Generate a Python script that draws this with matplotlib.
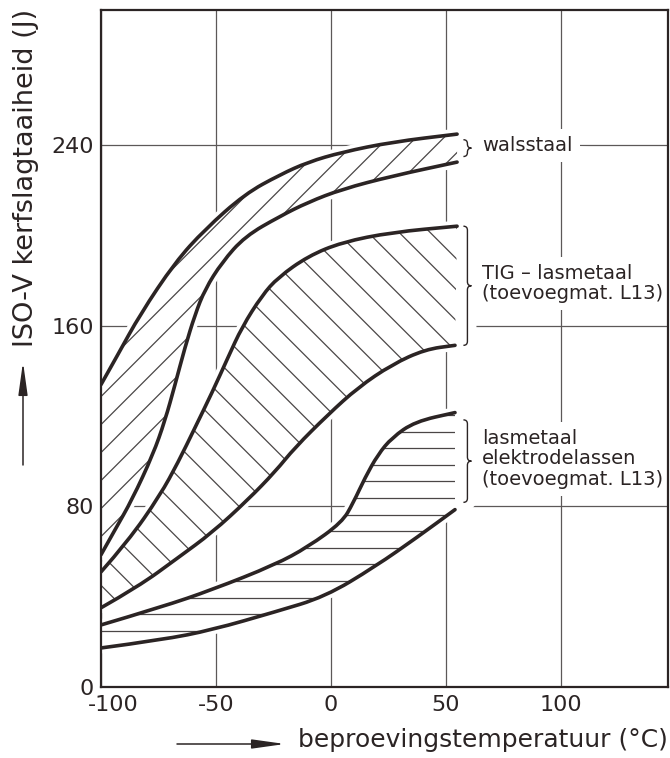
import numpy as np
import matplotlib
matplotlib.use("Agg")
import matplotlib.pyplot as plt
from matplotlib.patches import Polygon, PathPatch
from matplotlib.path import Path
from matplotlib.transforms import ScaledTranslation

# ISO-V impact energy (J) against test temperature (degC), upper/lower bound of each scatter band
walsstaal_hi_T = [-100, -92.6, -83.0, -67.8, -54.8, -37.4, -22.2, -10.0, 4.8, 26.5, 54.8]
walsstaal_hi_J = [134.0, 147.4, 165.1, 188.2, 202.8, 218.5, 227.0, 232.6, 237.0, 241.5, 245.0]
walsstaal_lo_T = [-100, -93.9, -86.5, -77.4, -72.2, -67.8, -63.5, -59.1, -54.8, -47.4, -37.4,
                  -22.2, -10.0, 4.8, 26.5, 54.8]
walsstaal_lo_J = [58.6, 69.7, 83.0, 103.0, 118.0, 134.0, 150.5, 165.1, 176.2, 188.2, 199.7,
                  208.6, 214.8, 220.6, 226.4, 232.6]

tig_hi_T = [-100, -88.3, -74.3, -66.5, -59.1, -51.7, -44.8, -38.7, -30.0, -23.0, -10.0, 4.8, 26.5, 54.8]
tig_hi_J = [51.0, 64.5, 85.0, 99.5, 115.0, 130.5, 146.0, 159.5, 173.5, 181.5, 190.9, 197.1, 201.5, 204.2]
tig_lo_T = [-100, -83.9, -66.5, -51.7, -36.1, -24.3, -15.7, -1.3, 11.7, 26.5, 40.9, 53.9]
tig_lo_J = [35.1, 44.4, 57.3, 68.4, 83.0, 95.4, 106.1, 120.7, 132.7, 142.9, 149.6, 151.4]

elek_hi_T = [-100, -73.5, -51.7, -24.3, -10.0, 4.8, 9.6, 14.8, 20.4, 26.5, 36.5, 53.9]
elek_hi_J = [27.5, 35.5, 43.1, 54.2, 62.1, 73.0, 81.5, 92.8, 103.0, 110.5, 117.6, 121.6]
elek_lo_T = [-100, -73.5, -51.7, -24.3, -2.6, 19.1, 37.8, 53.9]
elek_lo_J = [17.3, 20.9, 25.3, 33.3, 40.0, 53.3, 66.6, 78.6]

band_names = ["walsstaal",
              "TIG – lasmetaal\n(toevoegmat. L13)",
              "lasmetaal\nelektrodelassen\n(toevoegmat. L13)"]

x_ticks = [-100, -50, 0, 50, 100]
x_ticklabels = ["-100", "-50", "0", "50", "100"]
y_ticks = [0, 80, 160, 240]
y_ticklabels = ["0", "80", "160", "240"]

x_title = "beproevingstemperatuur (°C)"
y_title = "ISO-V kerfslagtaaiheid (J)"

# ---- styling ----
INK = "#2b2424"
GRID = "#5c5858"
HATCH = "#4a4646"
W, H = 670, 758

plt.rcParams["font.family"] = ["DejaVu Sans"]
fig = plt.figure(figsize=(W / 100, H / 100), dpi=100)
ax = fig.add_axes([101 / W, 1 - 687 / H, (668 - 101) / W, (687 - 10) / H])
XMIN, XMAX, YMIN, YMAX = -100, 146.5, 0, 300
ax.set_xlim(XMIN, XMAX)
ax.set_ylim(YMIN, YMAX)
ax.set_autoscale_on(False)

ax.set_xticks(x_ticks, x_ticklabels)
ax.set_yticks(y_ticks, y_ticklabels)
ax.tick_params(axis="both", length=0, labelsize=16, colors=INK)
ax.tick_params(axis="x", pad=6)
ax.tick_params(axis="y", pad=5)
ax.set_axisbelow(True)
ax.grid(True, color=GRID, lw=0.9)
for sp in ax.spines.values():
    sp.set_color(INK)
    sp.set_linewidth(1.6)
    sp.set_zorder(6)

# keep the leftmost temperature label inside the frame
lbl0 = ax.get_xticklabels()[0]
lbl0.set_transform(lbl0.get_transform() + ScaledTranslation(0.12, 0, fig.dpi_scale_trans))

# pixel scale of the data axes, used for 45-degree hatching
bb = ax.get_window_extent()
ppx = bb.width / (XMAX - XMIN)
ppy = bb.height / (YMAX - YMIN)


def smooth_path(T, J):
    """Quadratic Bezier path using the read points as control points."""
    p = np.column_stack([T, J]).astype(float)
    verts = [p[0]]
    codes = [Path.MOVETO]
    for i in range(1, len(p) - 1):
        verts += [p[i], 0.5 * (p[i] + p[i + 1])]
        codes += [Path.CURVE3, Path.CURVE3]
    verts.append(p[-1])
    codes.append(Path.LINETO)
    return Path(verts, codes)


def flatten(path):
    disp = path.transformed(ax.transData)
    poly = disp.to_polygons(closed_only=False)[0]
    return ax.transData.inverted().transform(poly)


def hatch(verts, kind, spacing_px, through):
    clip = Polygon(verts, closed=True, fc="none", ec="none")
    ax.add_patch(clip)
    if kind == "-":
        s = 0.0
    elif kind == "/":
        s = ppx / ppy
    else:
        s = -ppx / ppy
    dc = spacing_px / ppy
    c_all = verts[:, 1] - s * verts[:, 0]
    c0 = through[1] - s * through[0]
    k0 = int(np.floor((c_all.min() - c0) / dc)) - 1
    k1 = int(np.ceil((c_all.max() - c0) / dc)) + 1
    xx = np.array([XMIN - 5, 60.0])
    for k in range(k0, k1 + 1):
        c = c0 + k * dc
        ln, = ax.plot(xx, s * xx + c, color=HATCH, lw=0.9, zorder=2, solid_capstyle="butt")
        ln.set_clip_path(clip)


def brace(x0, y0, y1, width_px=4.0, hook_px=4.0, zorder=4):
    hw = width_px / ppx
    hl = hook_px / ppy
    ym = 0.5 * (y0 + y1)
    verts = [(x0 - hw, y1), (x0, y1), (x0, y1 - hl),
             (x0, ym + hl),
             (x0, ym), (x0 + hw, ym),
             (x0, ym), (x0, ym - hl),
             (x0, y0 + hl),
             (x0, y0), (x0 - hw, y0)]
    codes = [Path.MOVETO, Path.CURVE3, Path.CURVE3,
             Path.LINETO,
             Path.CURVE3, Path.CURVE3,
             Path.CURVE3, Path.CURVE3,
             Path.LINETO,
             Path.CURVE3, Path.CURVE3]
    p = Path(verts, codes)
    ax.add_patch(PathPatch(p, fc="none", ec="white", lw=13, zorder=1.6, capstyle="round"))
    ax.add_patch(PathPatch(p, fc="none", ec=INK, lw=1.0, zorder=zorder))


bands = [
    (walsstaal_hi_T, walsstaal_hi_J, walsstaal_lo_T, walsstaal_lo_J, "/", 28, (-100, 128.7), 0.6),
    (tig_hi_T, tig_hi_J, tig_lo_T, tig_lo_J, "\\", 31, (19.1, 198.4), 1.0),
    (elek_hi_T, elek_hi_J, elek_lo_T, elek_lo_J, "-", 16.6, (0, 61.7), 0.85),
]

BRACE_X = 59.3
LABEL_X = 65.7
for (tu, ju, tl, jl, kind, sp_px, thru, frac), name in zip(bands, band_names):
    upper = smooth_path(tu, ju)
    lower = smooth_path(tl, jl)
    verts = np.vstack([flatten(upper), flatten(lower)[::-1]])
    # white margin that interrupts the grid around each band
    ax.add_patch(Polygon(verts, closed=True, fc="white", ec="white", lw=8,
                         joinstyle="round", zorder=1.5))
    hatch(verts, kind, sp_px, thru)
    for pth in (upper, lower):
        ax.add_patch(PathPatch(pth, fc="none", ec=INK, lw=2.6, capstyle="round",
                               joinstyle="round", zorder=4))
    mid = 0.5 * (ju[-1] + jl[-1])
    half = 0.5 * (ju[-1] - jl[-1]) * frac
    brace(BRACE_X, mid - half, mid + half)
    ax.text(LABEL_X, mid + 1.0, name, ha="left", va="center", fontsize=14, color=INK,
            linespacing=1.12, zorder=3,
            bbox=dict(fc="white", ec="none", pad=5))

# axis titles with their arrows
fig.text(298 / W, 1 - 747 / H, x_title, ha="left", va="baseline", fontsize=18, color=INK)
fig.text(26 / W, 1 - 178 / H, y_title, ha="center", va="center", rotation=90,
         fontsize=19.5, color=INK)
arrow_style = dict(arrowstyle="-|>,head_length=1.0,head_width=0.14", lw=1.1, color=INK,
                   shrinkA=0, shrinkB=0, mutation_scale=20)
ax.annotate("", xy=(285, H - 744), xycoords="figure pixels",
            xytext=(177, H - 744), textcoords="figure pixels",
            arrowprops=arrow_style, annotation_clip=False)
ax.annotate("", xy=(23, H - 362), xycoords="figure pixels",
            xytext=(23, H - 465), textcoords="figure pixels",
            arrowprops=arrow_style, annotation_clip=False)

fig.savefig("out.png", dpi=100, facecolor="white")
